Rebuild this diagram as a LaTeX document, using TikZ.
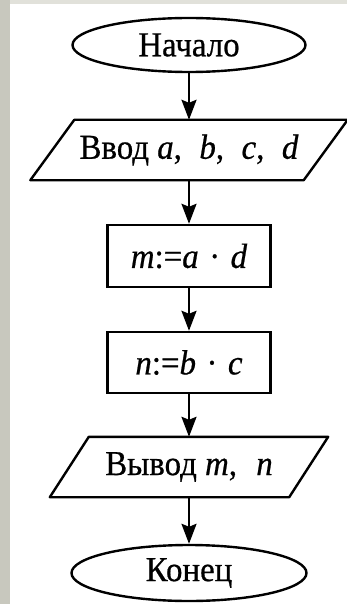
\documentclass[tikz,border=0pt]{standalone}
\usepackage{fontspec}
\setmainfont{Liberation Serif}[FakeStretch=0.94,FakeBold=0.6]
\usetikzlibrary{shapes.geometric,arrows.meta}
\definecolor{strip}{RGB}{200,200,190}
\definecolor{topstrip}{RGB}{225,225,218}
\begin{document}
\begin{tikzpicture}[x=1pt,y=-1pt,
  every node/.style={font=\fontsize{35}{38}\selectfont, inner sep=0pt},
  term/.style={ellipse, draw, line width=2.4pt},
  procbox/.style={rectangle, draw, line width=2.4pt, minimum width=163pt},
  iobox/.style={rectangle, minimum height=60pt},
  flow/.style={line width=2.4pt, -{Stealth[length=20pt,width=15pt,inset=3pt]}},
  edge/.style={line width=2.4pt, line join=round}
]
\useasboundingbox (0,0) rectangle (347,604);
\fill[white] (0,0) rectangle (347,604);
\fill[topstrip] (0,0) rectangle (347,4);
\fill[strip] (0,0) rectangle (10,604);

\node[term, minimum width=233pt, minimum height=54pt] (start) at (189,45) {Начало};
\node[iobox, minimum width=273pt] (in) at (189,150) {Ввод \textit{a},\hspace{0.5em}\textit{b},\hspace{0.5em}\textit{c},\hspace{0.5em}\textit{d}};
\node[procbox, minimum height=62pt] (m) at (189,256) {\textit{m}:=\textit{a}\hspace{0.3em}·\hspace{0.3em}\textit{d}};
\node[procbox, minimum height=61pt] (n) at (189,362.5) {\textit{n}:=\textit{b}\hspace{0.3em}·\hspace{0.3em}\textit{c}};
\node[iobox, minimum width=239pt] (out) at (189,467) {Вывод \textit{m},\hspace{0.55em}\textit{n}};
\node[term, minimum width=235pt, minimum height=56pt] (stop) at (189,573) {Конец};

\draw[edge] ([xshift=22pt]in.north west) -- ([xshift=22pt]in.north east)
  -- ([xshift=-22pt]in.south east) -- ([xshift=-22pt]in.south west) -- cycle;
\draw[edge] ([xshift=19.5pt]out.north west) -- ([xshift=19.5pt]out.north east)
  -- ([xshift=-19.5pt]out.south east) -- ([xshift=-19.5pt]out.south west) -- cycle;

\draw[flow] (start.south) -- (in.north);
\draw[flow] (in.south) -- (m.north);
\draw[flow] (m.south) -- (n.north);
\draw[flow] (n.south) -- (out.north);
\draw[flow] (out.south) -- (stop.north);
\end{tikzpicture}
\end{document}
